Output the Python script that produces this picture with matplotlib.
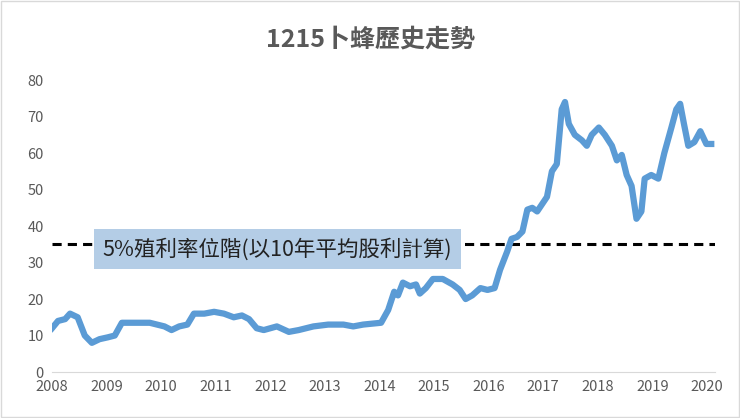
import matplotlib
matplotlib.use("Agg")
import matplotlib.pyplot as plt

plt.rcParams['font.family'] = ['Noto Sans CJK TC', 'DejaVu Sans']

years = [2008.00,2008.11,2008.24,2008.33,2008.47,2008.60,2008.73,2008.87,2009.02,2009.15,2009.28,2009.51,2009.79,
         2010.06,2010.19,2010.33,2010.48,2010.60,2010.79,2010.97,2011.15,2011.33,2011.48,2011.61,2011.75,2011.88,
         2012.12,2012.34,2012.52,2012.79,2013.06,2013.34,2013.52,2013.70,2014.03,2014.16,2014.27,2014.34,2014.43,
         2014.56,2014.67,2014.74,2014.85,2014.98,2015.16,2015.34,2015.47,2015.58,2015.70,2015.85,2015.98,2016.11,
         2016.21,2016.34,2016.42,2016.52,2016.62,2016.71,2016.80,2016.89,2016.98,2017.07,2017.16,2017.25,2017.34,
         2017.40,2017.47,2017.58,2017.71,2017.80,2017.89,2018.02,2018.13,2018.26,2018.35,2018.44,2018.53,2018.62,
         2018.71,2018.80,2018.86,2018.98,2019.11,2019.22,2019.35,2019.44,2019.51,2019.58,2019.66,2019.77,2019.88,
         2019.99,2020.08]
prices = [12,14,14.5,16,15,10,8,9,9.5,10,13.5,13.5,13.5,
          12.5,11.5,12.5,13,16,16,16.5,16,15,15.5,14.5,12,11.5,
          12.5,11,11.5,12.5,13,13,12.5,13,13.5,17,22,21,24.5,
          23.5,24,21.5,23,25.5,25.5,24,22.5,20,21,23,22.5,23,
          28,33,36.5,37,38.5,44.5,45,44,46,48,55,57,72,
          74,68,65,63.5,62,65,67,65,62,58,59.5,54,51,
          42,44,53,54,53,60,67,72,73.5,68,62,63,66,
          62.5,62.5]
ref_level = 35
ref_label = "5%殖利率位階(以10年平均股利計算)"
title = "1215卜蜂歷史走勢"
xticks = list(range(2008, 2021))
yticks = list(range(0, 81, 10))

fig = plt.figure(figsize=(7.4, 4.18), dpi=100)
ax = fig.add_axes([0.0703, 0.110, 0.896, 0.742])
ax.plot(years, prices, color='#5b9bd5', lw=4.5, solid_joinstyle='round', zorder=3)
ax.axhline(ref_level, color='black', ls=(0, (3, 2)), lw=2.2, zorder=2)
ax.text(2008.93, ref_level - 1.3, ref_label, fontsize=15.5, color='#222222', va='center', ha='left',
        bbox=dict(boxstyle='square,pad=0.4', fc='#b4cde6', ec='none'), zorder=4)
ax.set_xlim(2008, 2020.15)
ax.set_ylim(0, 85)
ax.set_xticks(xticks)
ax.set_yticks(yticks)
ax.tick_params(length=0, labelsize=10.5, colors='#595959', pad=6)
for s in ['top', 'right', 'left']:
    ax.spines[s].set_visible(False)
ax.spines['bottom'].set_color('#d9d9d9')
fig.text(0.5, 0.905, title, ha='center', va='center', fontsize=18, fontweight='bold', color='#595959')
fig.patches.append(plt.Rectangle((0.002, 0.002), 0.996, 0.996, transform=fig.transFigure,
                                 fill=False, ec='#d9d9d9', lw=1))
fig.savefig('out.png', dpi=100)
